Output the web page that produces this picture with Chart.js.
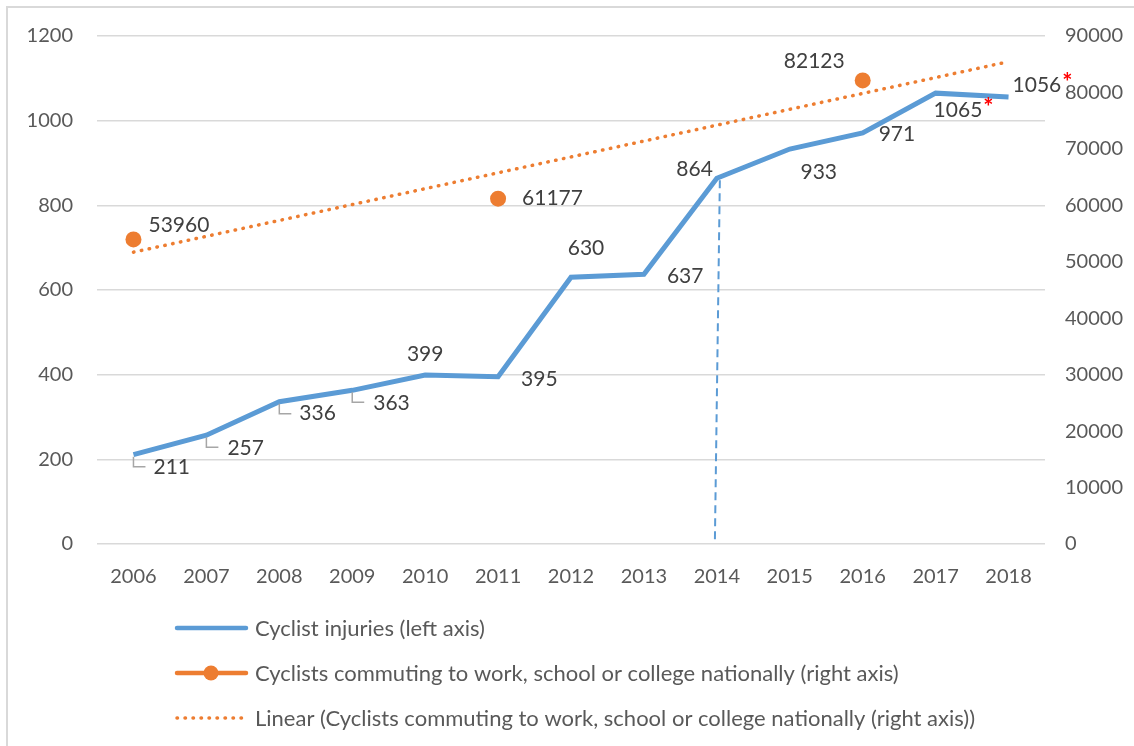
<!DOCTYPE html>
<html lang="en">
<head>
<meta charset="UTF-8" />
<meta name="viewport" content="width=device-width, initial-scale=1.0" />
<title>Cyclist injuries</title>
<script src="https://cdn.jsdelivr.net/npm/chart.js@4.4.1/dist/chart.umd.min.js"></script>
<style>
    body { margin: 0; background: #fff; }
    #wrap { position: relative; width: 1134px; height: 746px; }
</style>
</head>
<body>
<div id="wrap"><canvas id="myChart"></canvas></div>
<script>
const years = ["2006", "2007", "2008", "2009", "2010", "2011", "2012", "2013", "2014", "2015", "2016", "2017", "2018"];
const injuries = [211, 257, 336, 363, 399, 395, 630, 637, 864, 933, 971, 1065, 1056];
const commuters = [53960, null, null, null, null, 61177, null, null, null, null, 82123, null, null];
// trend line ends
const trendStart = 51700;
const trendEnd = 85450;
const starredYears = ["2017", "2018"];
const markedYear = "2014";

const names = [
    "Cyclist injuries (left axis)",
    "Cyclists commuting to work, school or college nationally (right axis)",
    "Linear (Cyclists commuting to work, school or college nationally (right axis))"
];

const BLUE = "#5b9bd5";
const ORANGE = "#ed7d31";
const FONT = "Lato, 'Open Sans', sans-serif";

// where each value label sits: [align, dx, dy, leader]
const injuryLabelPos = [
    ["left", 20, 13, true], ["left", 21, 13, true], ["left", 20, 11, true], ["left", 21, 13, true],
    ["center", 0, -21], ["left", 23, 2], ["center", 15, -29], ["left", 23, 2],
    ["right", -4, -9], ["center", 29, 23], ["left", 16, 1], ["left", -2, 17], ["left", 4, -12]
];
const commuterLabelPos = {0: ["left", 15, -14], 5: ["left", 24, 0], 10: ["right", -18, -19]};

const extras = {
    id: "extras",
    beforeDraw(chart) {
        const c = chart.ctx;
        c.save();
        c.strokeStyle = "#d9d9d9";
        c.lineWidth = 2;
        c.beginPath();
        c.moveTo(7, 746);
        c.lineTo(7, 7);
        c.lineTo(1134, 7);
        c.stroke();
        c.restore();
    },
    afterDatasetsDraw(chart) {
        const c = chart.ctx;
        const x = chart.scales.x, yl = chart.scales.y, yr = chart.scales.y1;
        c.save();

        // dashed drop line
        const mi = years.indexOf(markedYear);
        const mx = x.getPixelForValue(mi);
        c.strokeStyle = BLUE;
        c.lineWidth = 2;
        c.setLineDash([8, 5]);
        c.beginPath();
        c.moveTo(mx + 3, yl.getPixelForValue(injuries[mi]) + 2);
        c.lineTo(mx - 2, yl.getPixelForValue(0));
        c.stroke();
        c.setLineDash([]);

        c.textBaseline = "middle";

        function label(text, px, py, pos, star) {
            const [align, dx, dy, leader] = pos;
            if (leader) {
                c.strokeStyle = "#a6a6a6";
                c.lineWidth = 1.5;
                c.beginPath();
                c.moveTo(px, py + 2);
                c.lineTo(px, py + 12);
                c.lineTo(px + 12, py + 12);
                c.stroke();
            }
            c.font = "21px " + FONT;
            const w = c.measureText(text).width;
            let lx = px + dx;
            if (align === "center") lx -= w / 2;
            if (align === "right") lx -= w;
            c.fillStyle = "#404040";
            c.textAlign = "left";
            c.fillText(text, lx, py + dy);
            if (star) {
                c.font = "bold 24px " + FONT;
                c.fillStyle = "#ff0000";
                c.fillText("*", lx + w + 1, py + dy - 2);
            }
        }

        injuries.forEach((v, i) => {
            label(String(v), x.getPixelForValue(i), yl.getPixelForValue(v), injuryLabelPos[i],
                starredYears.includes(years[i]));
        });
        commuters.forEach((v, i) => {
            if (v === null) return;
            label(String(v), x.getPixelForValue(i), yr.getPixelForValue(v), commuterLabelPos[i], false);
        });

        // legend, one entry per row
        const rows = [628, 673, 718];
        c.font = "22px " + FONT;
        chart.data.datasets.slice(0, 3).forEach((ds, i) => {
            const y = rows[i];
            c.strokeStyle = ds.borderColor;
            c.lineWidth = i === 2 ? 3.5 : 4.5;
            c.lineCap = "round";
            c.setLineDash(i === 2 ? [0.5, 7.5] : []);
            c.beginPath();
            c.moveTo(177, y);
            c.lineTo(246, y);
            c.stroke();
            c.setLineDash([]);
            if (i === 1) {
                c.fillStyle = ORANGE;
                c.beginPath();
                c.arc(211, y, 7.5, 0, Math.PI * 2);
                c.fill();
            }
            c.fillStyle = "#595959";
            c.textAlign = "left";
            c.fillText(ds.label, 255, y + 1);
        });
        c.restore();
    }
};

new Chart("myChart", {
    type: "line",
    data: {
        labels: years,
        datasets: [
            {
                label: names[0],
                data: injuries,
                yAxisID: "y",
                borderColor: BLUE,
                borderWidth: 5,
                pointRadius: 0,
                tension: 0
            },
            {
                label: names[1],
                data: commuters,
                yAxisID: "y1",
                borderColor: ORANGE,
                backgroundColor: ORANGE,
                showLine: false,
                pointRadius: 8,
                pointBorderWidth: 0
            },
            {
                label: names[2],
                data: [{x: years[0], y: trendStart}, {x: years[years.length - 1], y: trendEnd}],
                yAxisID: "y1",
                borderColor: ORANGE,
                borderWidth: 3.5,
                borderDash: [0.5, 7.5],
                borderCapStyle: "round",
                pointRadius: 0
            }
        ]
    },
    options: {
        responsive: true,
        maintainAspectRatio: false,
        animation: false,
        layout: { padding: { top: 36, bottom: 142, left: 0, right: 0 } },
        plugins: { legend: { display: false }, tooltip: { enabled: false } },
        scales: {
            x: {
                offset: true,
                grid: { display: false },
                border: { display: false },
                ticks: { color: "#595959", font: { family: FONT, size: 20 }, padding: 13, maxRotation: 0 },
                afterFit: (s) => { s.height = 60; }
            },
            y: {
                position: "left",
                min: 0, max: 1200,
                ticks: { stepSize: 200, color: "#595959", font: { family: FONT, size: 20 }, padding: 24,
                    callback: (v) => String(v) },
                grid: { color: "#d9d9d9", lineWidth: 1.5, drawTicks: false },
                border: { display: false },
                afterFit: (s) => { s.width = 97; }
            },
            y1: {
                position: "right",
                min: 0, max: 90000,
                ticks: { stepSize: 10000, color: "#595959", font: { family: FONT, size: 20 }, padding: 20,
                    callback: (v) => String(v) },
                grid: { display: false, drawTicks: false },
                border: { display: false },
                afterFit: (s) => { s.width = 89; }
            }
        }
    },
    plugins: [extras]
});
</script>
</body>
</html>
